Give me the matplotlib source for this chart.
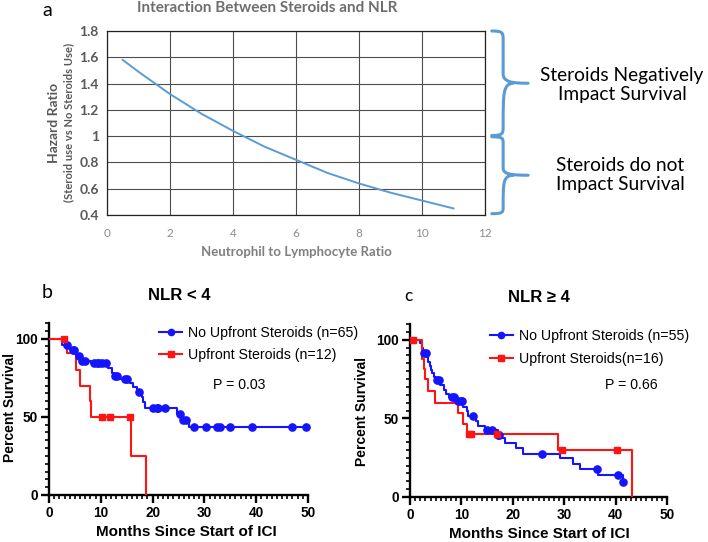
import numpy as np
import matplotlib
matplotlib.use("Agg")
import matplotlib.pyplot as plt
import matplotlib.transforms as mtransforms
from matplotlib.path import Path
from matplotlib.patches import PathPatch
from matplotlib.ticker import MultipleLocator

# ---- panel a: hazard ratio vs NLR
nlr = [0.5, 1, 2, 3, 4, 5, 6, 7, 8, 9, 10, 11]
hazard = [1.58, 1.49, 1.32, 1.17, 1.04, 0.92, 0.82, 0.72, 0.64, 0.57, 0.51, 0.45]

# ---- panel b: NLR < 4
b_no_t = [0, 2.45, 4.05, 5.5, 6.0, 8.2, 11.45, 12.1, 12.5, 13.7, 15.6, 16.3, 16.9,
          17.9, 18.2, 18.5, 24.8, 25.6, 27.0, 49.6]
b_no_s = [100, 96, 93, 89, 86, 84.4, 81.2, 78, 76, 74.1, 71.4, 68.8, 66,
          62.6, 59.4, 55.8, 51.9, 48, 43.2, 43.2]
b_no_c = [3.4, 4.7, 4.9, 5.7, 6.3, 6.95, 8.75, 9.2, 9.65, 10.3, 11.1, 12.7, 13.2,
          14.7, 15.0, 17.4, 20.1, 20.8, 21.1, 22.4, 25.3, 25.9, 26.5, 27.9, 30.4,
          32.5, 33.0, 34.9, 39.1, 47.0, 49.6]
b_up_t = [0, 3.4, 5.3, 5.9, 7.9, 8.2, 15.8, 18.7]
b_up_s = [100, 90.9, 80, 70, 60, 50, 25, 0]
b_up_c = [2.8, 10.2, 11.8, 15.6]

# ---- panel c: NLR >= 4
c_no_t = [0, 1.95, 2.3, 2.6, 3.3, 3.5, 3.8, 4.0, 4.3, 4.7, 5.0, 5.8, 6.6, 7.1,
          7.6, 8.9, 10.4, 11.0, 11.3, 12.8, 13.3, 14.6, 17.2, 17.8, 18.5, 20.6,
          22.0, 29.2, 31.8, 33.1, 36.6, 41.5]
c_no_s = [100, 97.9, 94.7, 91.5, 88.7, 85.6, 83.0, 80.9, 78.8, 76.6, 74.1, 71.3,
          68.2, 65.6, 63.5, 61.1, 57.3, 54.4, 51.2, 48.4, 45.2, 42.7, 39.7, 37.2,
          34.2, 31.0, 27.4, 24.6, 21.0, 17.8, 14.0, 9.3]
c_no_c = [2.8, 3.1, 5.2, 5.6, 8.1, 8.6, 9.4, 9.9, 10.2, 12.3, 14.9, 15.9, 17.2,
          17.4, 25.6, 36.3, 40.4, 41.5]
c_up_t = [0, 2.3, 2.7, 3.0, 3.5, 4.9, 9.4, 10.4, 11.0, 28.7, 43.1]
c_up_s = [100, 87.5, 81.3, 75, 67.5, 60, 53.3, 46.7, 40, 30, 0]
c_up_c = [0.6, 11.5, 11.8, 17.0, 29.5, 40.3]

W, H = 708, 542
fig = plt.figure(figsize=(W / 100, H / 100), dpi=100)


def fx(px):
    return px / W


def fy(py):
    return 1 - py / H


CAL = ["Lato", "DejaVu Sans"]
ARL = ["Liberation Sans", "DejaVu Sans"]
EXCEL_BLUE = "#5B9BD5"
BLUE = "#1414ff"
RED = "#ff1414"
KM_FS = 10.2

# ================= panel a =================
axa = fig.add_axes([fx(107), fy(215), fx(485 - 107), (215 - 31) / H])
axa.plot(nlr, hazard, color=EXCEL_BLUE, lw=1.4)
axa.set_xlim(0, 12)
axa.set_ylim(0.4, 1.8)
axa.grid(True, color="#4d4d4d", lw=0.8)
axa.set_axisbelow(True)
for s in axa.spines.values():
    s.set_color("#222222")
    s.set_linewidth(0.9)
axa.tick_params(length=0, pad=9)
axa.set_xticks(range(0, 13, 2))
axa.set_xticklabels([str(v) for v in range(0, 13, 2)], family=CAL, fontsize=8.5, color="#8c8c8c")
axa.set_yticks([0.4, 0.6, 0.8, 1.0, 1.2, 1.4, 1.6, 1.8])
axa.set_yticklabels(["0.4", "0.6", "0.8", "1", "1.2", "1.4", "1.6", "1.8"],
                    family=CAL, fontsize=10, color="#595959", fontweight="bold")
axa.tick_params(axis="y", pad=6)

fig.text(fx(267), fy(8), "Interaction Between Steroids and NLR", family=CAL, fontsize=11,
         fontweight="bold", color="#6e6e6e", ha="center", va="center")
fig.text(fx(47), fy(10), "a", family=CAL, fontsize=14, ha="center", va="center")
fig.text(fx(296), fy(252), "Neutrophil to Lymphocyte Ratio", family=CAL, fontsize=9.5,
         fontweight="bold", color="#7f7f7f", ha="center", va="center")
fig.text(fx(54), fy(123), "Hazard Ratio", family=CAL, fontsize=10, fontweight="bold",
         color="#595959", rotation=90, ha="center", va="center")
fig.text(fx(69), fy(122), "(Steroid use vs No Steroids Use)", family=CAL, fontsize=8,
         fontweight="bold", color="#595959", rotation=90, ha="center", va="center")

# curly braces, x in axes fraction, y in data units
trans = mtransforms.blended_transform_factory(axa.transAxes, axa.transData)


def brace(y_top, y_bot):
    ym = (y_top + y_bot) / 2
    x0, x1, x2, x3 = 1.018, 1.048, 1.074, 1.114
    d = (y_top - y_bot) * 0.09
    verts = [(x0, y_top), (x1, y_top), (x1, y_top - d * 0.2), (x1, y_top - d),
             (x1, ym + d), (x1, ym + d * 0.1), (x2, ym), (x3, ym),
             (x2, ym), (x1, ym - d * 0.1), (x1, ym - d),
             (x1, y_bot + d), (x1, y_bot + d * 0.2), (x1, y_bot), (x0, y_bot)]
    codes = [Path.MOVETO, Path.CURVE4, Path.CURVE4, Path.CURVE4,
             Path.LINETO, Path.CURVE4, Path.CURVE4, Path.LINETO,
             Path.MOVETO, Path.CURVE4, Path.CURVE4,
             Path.LINETO, Path.CURVE4, Path.CURVE4, Path.CURVE4]
    patch = PathPatch(Path(verts, codes), transform=trans, fill=False,
                      edgecolor=EXCEL_BLUE, lw=2.2, clip_on=False, capstyle="round")
    axa.add_patch(patch)


brace(1.8, 1.005)
brace(0.995, 0.41)

fig.text(fx(622), fy(85), "Steroids Negatively\nImpact Survival", family=CAL, fontsize=13.8,
         ha="center", va="center", linespacing=1.2)
fig.text(fx(620), fy(175), "Steroids do not\nImpact Survival", family=CAL, fontsize=13.8,
         ha="center", va="center", linespacing=1.2)


# ================= KM panels =================
def km_panel(ax, no_t, no_s, no_c, up_t, up_s, up_c, lab_no, lab_up, pval, leg_xy, p_xy):
    no_t, no_s, up_t, up_s = map(np.asarray, (no_t, no_s, up_t, up_s))
    no_c, up_c = np.asarray(no_c), np.asarray(up_c)
    ax.step(no_t, no_s, where="post", color=BLUE, lw=1.5, zorder=3)
    ax.plot(no_c, no_s[np.searchsorted(no_t, no_c, side="right") - 1], "o",
            color=BLUE, ms=5.2, clip_on=False, zorder=4)
    ax.step(up_t, up_s, where="post", color=RED, lw=1.5, zorder=3)
    ax.plot(up_c, up_s[np.searchsorted(up_t, up_c, side="right") - 1], "s",
            color=RED, ms=5.0, clip_on=False, zorder=4)
    # legend handles
    h1, = ax.plot([], [], "-o", color=BLUE, lw=1.5, ms=4.5)
    h2, = ax.plot([], [], "-s", color=RED, lw=1.5, ms=4.5)
    ax.legend([h1, h2], [lab_no, lab_up], loc="upper left", bbox_to_anchor=leg_xy,
              frameon=False, borderpad=0, handlelength=1.62, handletextpad=0.42,
              labelspacing=0.6, borderaxespad=0, prop={"family": ARL, "size": KM_FS})
    ax.text(p_xy[0], p_xy[1], pval, transform=ax.transAxes, family=ARL, fontsize=KM_FS,
            va="center", ha="left")
    ax.set_xlim(0, 50)
    ax.set_ylim(0, 110)
    ax.spines["top"].set_visible(False)
    ax.spines["right"].set_visible(False)
    for s in ("left", "bottom"):
        ax.spines[s].set_linewidth(1.7)
    ax.set_xticks([0, 10, 20, 30, 40, 50])
    ax.set_yticks([0, 50, 100])
    ax.xaxis.set_minor_locator(MultipleLocator(1))
    ax.yaxis.set_minor_locator(MultipleLocator(5))
    ax.tick_params(which="major", length=6, width=1.7, direction="out", pad=2)
    ax.tick_params(which="minor", length=3.2, width=1.2, direction="out")
    for lbl in ax.get_xticklabels() + ax.get_yticklabels():
        lbl.set_family(ARL)
        lbl.set_fontweight("bold")
        lbl.set_fontsize(9.8)


axb = fig.add_axes([fx(49), fy(495), fx(308 - 49), (495 - 323) / H])
km_panel(axb, b_no_t, b_no_s, b_no_c, b_up_t, b_up_s, b_up_c,
         "No Upfront Steroids (n=65)", "Upfront Steroids (n=12)", "P = 0.03",
         (0.425, 0.983), (0.633, 0.64))

axc = fig.add_axes([fx(410), fy(497), fx(667 - 410), (497 - 324) / H])
km_panel(axc, c_no_t, c_no_s, c_no_c, c_up_t, c_up_s, c_up_c,
         "No Upfront Steroids (n=55)", "Upfront Steroids(n=16)", "P = 0.66",
         (0.311, 0.971), (0.759, 0.647))

fig.text(fx(47), fy(293), "b", family=CAL, fontsize=14, ha="center", va="center")
fig.text(fx(408), fy(296), "c", family=CAL, fontsize=12.5, ha="center", va="center")
fig.text(fx(179), fy(296), "NLR < 4", family=ARL, fontsize=12, fontweight="bold",
         ha="center", va="center")
fig.text(fx(539), fy(297), "NLR \u2265 4", family=ARL, fontsize=12, fontweight="bold",
         ha="center", va="center")
fig.text(fx(186), fy(532), "Months Since Start of ICI", family=ARL, fontsize=11,
         fontweight="bold", ha="center", va="center")
fig.text(fx(539), fy(534), "Months Since Start of ICI", family=ARL, fontsize=11,
         fontweight="bold", ha="center", va="center")
fig.text(fx(10), fy(407), "Percent Survival", family=ARL, fontsize=10, fontweight="bold",
         rotation=90, ha="center", va="center")
fig.text(fx(362), fy(412), "Percent Survival", family=ARL, fontsize=10, fontweight="bold",
         rotation=90, ha="center", va="center")

fig.savefig("out.png", dpi=100, facecolor="white")
